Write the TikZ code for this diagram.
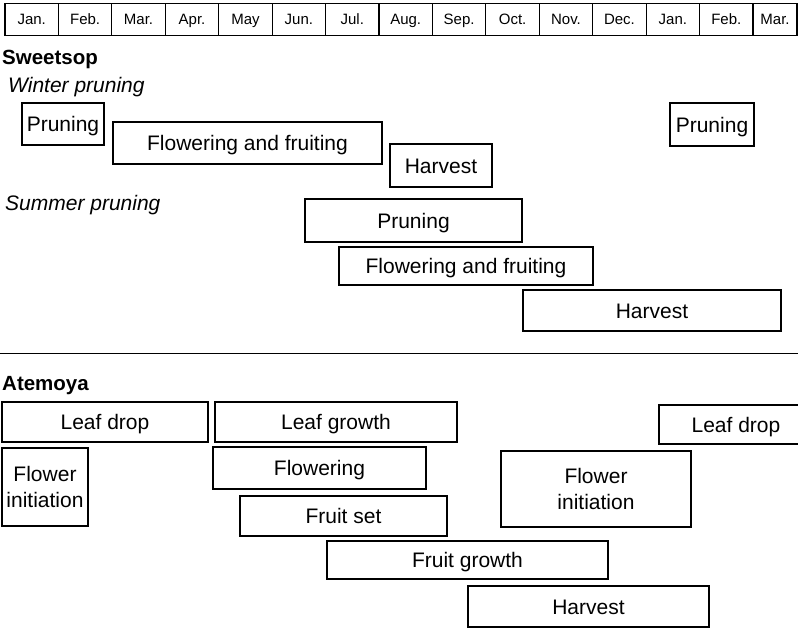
\documentclass[tikz,border=0pt]{standalone}
\usepackage{fontspec}
\setmainfont{Liberation Sans}
\begin{document}
\begin{tikzpicture}[x=1pt,y=-1pt,
  gbox/.style={draw,line width=1.2pt,inner sep=0pt,align=center,
    font=\fontsize{21}{26}\selectfont},
  onel/.style={text height=15.1pt,text depth=0pt},
  mcell/.style={draw,line width=1.1pt,inner sep=0pt,minimum height=32.5pt,
    font=\fontsize{15}{18}\selectfont,text height=10.8pt,text depth=0pt},
  title/.style={inner sep=0pt,anchor=base west,font=\bfseries\fontsize{20.5}{24}\selectfont},
  sub/.style={inner sep=0pt,anchor=base west,font=\itshape\fontsize{21}{24}\selectfont}]
\useasboundingbox (0,0) rectangle (798,628);
% month header
\foreach \m [count=\i from 0] in {Jan.,Feb.,Mar.,Apr.,May,Jun.,Jul.,Aug.,Sep.,Oct.,Nov.,Dec.,Jan.,Feb.}
  \node[mcell,minimum width=53.43pt] (m\i) at ({5+53.43*(\i+0.5)},19.5) {\m};
\node[mcell,minimum width=44pt] (m14) at (775,19.5) {Mar.};
% Sweetsop
\node[title] (sweetsop) at (2,65) {Sweetsop};
\node[sub] (winter) at (8,93) {Winter pruning};
\node[gbox,onel,minimum width=82pt,minimum height=42pt] (wp1) at (63,124) {Pruning};
\node[gbox,onel,minimum width=269pt,minimum height=42pt] (wff) at (247.5,143) {Flowering and fruiting};
\node[gbox,onel,minimum width=102pt,minimum height=43pt] (wh) at (441,165.5) {Harvest};
\node[gbox,onel,minimum width=84pt,minimum height=43pt] (wp2) at (712,124.5) {Pruning};
\node[sub] (summer) at (5,211) {Summer pruning};
\node[gbox,onel,minimum width=217pt,minimum height=43pt] (sp) at (413.5,220.5) {Pruning};
\node[gbox,onel,minimum width=254pt,minimum height=38pt] (sff) at (466,266) {Flowering and fruiting};
\node[gbox,onel,minimum width=258pt,minimum height=41pt] (sh) at (652,310.5) {Harvest};
% separator
\coordinate (sepL) at (0,353.3);
\coordinate (sepR) at (798,353.3);
\draw[line width=1.2pt] (sepL) -- (sepR);
% Atemoya
\node[title] (atemoya) at (2,390) {Atemoya};
\node[gbox,onel,minimum width=206pt,minimum height=40pt] (ald1) at (105,422) {Leaf drop};
\node[gbox,onel,minimum width=242pt,minimum height=40pt] (alg) at (336,422) {Leaf growth};
\node[gbox,minimum width=86pt,minimum height=78pt] (afi1) at (45,487) {Flower\\initiation};
\node[gbox,onel,minimum width=213pt,minimum height=42pt] (afl) at (319.5,468) {Flowering};
\node[gbox,onel,minimum width=207pt,minimum height=40pt] (afs) at (343.5,516) {Fruit set};
\node[gbox,onel,minimum width=281pt,minimum height=38pt] (afg) at (467.5,560) {Fruit growth};
\node[gbox,onel,minimum width=154pt,minimum height=39pt] (ald2) at (736,424.5) {Leaf drop};
\node[gbox,minimum width=190pt,minimum height=76pt] (afi2) at (596,489) {Flower\\initiation};
\node[gbox,onel,minimum width=241pt,minimum height=41pt] (ah) at (588.5,606.5) {Harvest};
\end{tikzpicture}
\end{document}
